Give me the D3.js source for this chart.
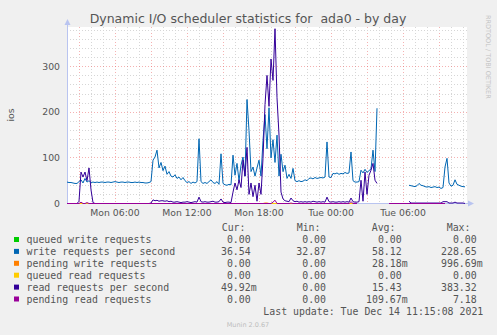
<!DOCTYPE html>
<html><head><meta charset="utf-8">
<script src="https://cdn.jsdelivr.net/npm/d3@7"></script>
<style>body{margin:0;background:#f0f0f0;overflow:hidden} text{white-space:pre}</style>
</head><body>
<svg id="c" width="497" height="335"></svg>
<script>
// ---- data ----
const startTime = "2021-12-13T02:00:00";
const endTime = "2021-12-14T11:20:00";
const stepMinutes = 10;
const yTicks = [0, 100, 200, 300];
const title = "Dynamic I/O scheduler statistics for  ada0 - by day";
const yLabel = "ios";

const queuedWrite = [0,0,0,0,0,0,0,0,0,0, 0,0,0,0,0,0,0,0,0,0, 0,0,0,0,0,0,0,0,0,0, 0,0,0,0,0,0,0,0,0,0,
 0,0,0,0,0,0,0,0,0,0, 0,0,0,0,0,0,0,0,0,0, 0,0,0,0,0,0,0,0,0,0, 0,0,0,0,0,0,0,0,0,0,
 0,0,0,0,0,0,0,0,0,0, 0,0,0,0,0,0,0,0,0,0, 0,0,0,0,0,0,0,0,0,0, 0,0,0,0,0,0,0,0,0,0,
 0,0,0,0,0,0,0,0,0,0, 0,0,0,0,0,0,0,0,0,0, 0,0,0,0,0,0,null,null,null,null,
 null,null,null,null,null,null,null,null,null,null, null,0,0,0,0,0,0,0,0,0,
 0,0,0,0,0,0,0,0,0,0, 0,0,0,0,0,0,0,0,0,0];
const writeRps = [47,46,46,45,44,44,48,52,45,55, 47,50,46,47,46,47,46,47,47,46,
 47,47,46,47,48,47,46,47,47,46, 47,47,46,46,47,46,47,46,46,45,
 45,46,48,95,102,117,78,90,72,82, 64,70,60,58,63,55,58,52,57,50,
 46,48,44,47,45,48,142,48,44,46, 44,48,52,46,44,48,42,109,44,41,
 40,42,41,106,62,88,50,84,102,60, 228,160,70,80,60,78,95,60,138,195,
 120,210,100,140,90,150,60,108,70,84, 55,64,55,77,50,48,50,48,49,52,
 50,55,56,54,57,55,56,57,56,58, 135,58,57,66,65,67,64,66,65,68,
 66,67,113,50,47,47,48,73,67,75, 68,72,76,117,70,209,null,null,null,null,
 null,null,null,null,null,null,null,null,null,null, null,40,39,38,37,39,44,40,39,37,
 36,37,35,36,37,35,36,33,35,80, 99,45,38,40,52,42,40,38,37,36.54];
const pendingWrite = [0,0,0,0,0,0,0,0,0,0, 0,0,0,0,0,0,0,0,0,0, 0,0,0,0,0,0,0,0,0,0, 0,0,0,0,0,0,0,0,0,0,
 0,0,0,0,0,0,0,0,0,0, 0,0,0,0,0,0,0,0,0,0, 0,0,0,0,0,0,0,0,0,0, 0,0,0,0,0,0,0,0,0,0,
 0,0,0,0,0,0,0,0,0,0, 0,0,0,0,0,0,0,0,0,1, 1,0,0,0,0,0,0,0,0,0, 0,0,0,0,0,0,0,0,0,0,
 0,0,0,0,0,0,0,0,0,0, 0,0,0,0,0,0,0,0,0,0, 0,0,0,0,0,0,null,null,null,null,
 null,null,null,null,null,null,null,null,null,null, null,0,0,0,0,0,0,0,0,0,
 0,0,0,0,0,0,0,0,0,0, 0,0,0,0,0,0,0,0,0,0];
const queuedRead = [0,0,0,0,0,0,0,0,0,0, 0,0,0,0,0,0,0,0,0,0, 0,0,0,0,0,0,0,0,0,0, 0,0,0,0,0,0,0,0,0,0,
 0,0,0,0,0,0,0,0,0,0, 0,0,0,0,0,0,0,0,0,0, 0,0,0,0,0,0,0,0,0,0, 0,0,0,0,0,0,0,0,0,0,
 0,0,0,0,0,0,0,0,0,0, 0,0,0,0,0,0,0,0,0,0, 0,0,0,0,0,0,0,0,0,0, 0,0,0,0,0,0,0,0,0,0,
 0,0,0,0,0,0,0,0,0,0, 0,0,0,0,0,0,0,0,0,0, 0,0,0,0,0,0,null,null,null,null,
 null,null,null,null,null,null,null,null,null,null, null,0,0,0,0,0,0,0,0,0,
 0,0,0,0,0,0,0,0,0,0, 0,0,0,0,0,0,0,0,0,0];
const readRps = [0,0,0,0,0,0,5,69,58,69, 50,78,30,2,0,0,0,0,0,0,
 0,0,0,0,0,0,0,0,0,0, 0,0,0,0,0,0,0,0,0,0,
 0,0,1,8,6,7,5,6,6,5, 6,4,5,3,3,4,3,2,3,3,
 4,3,2,3,4,3,14,4,3,4, 3,3,4,5,3,3,4,10,3,2,
 3,3,2,25,45,30,52,35,95,60, 123,20,45,15,40,5,45,20,99,217,
 281,213,317,270,383.32,232,150,25,10,6, 5,4,12,6,4,5,3,4,3,4,
 3,4,3,5,4,3,4,3,4,3, 14,4,3,4,3,3,4,3,4,3,
 4,3,12,4,3,3,4,51,5,69, 20,62,73,88,51,44,null,null,null,null,
 null,null,null,null,null,null,null,null,null,null, null,5,1,1,1,1,1,1,1,1,
 1,1,1,1,1,1,1,1,4,4, 4,1,1,1,3,1,1,1,1,0.05];
const pendingRead = [0,0,0,0,0,0,0,3,0,0, 2,0,0,0,0,0,0,0,0,0, 0,0,0,0,0,0,0,0,0,0, 0,0,0,0,0,0,0,0,0,0,
 0,0,0,0,0,0,0,0,0,0, 0,0,0,0,0,0,0,0,0,0, 0,0,0,0,0,0,0,0,0,0, 0,0,0,0,0,0,0,0,0,0,
 0,0,0,0,0,0,0,0,0,0, 0,0,0,0,0,0,0,0,0,0, 0,0,0,3,7.18,0,0,0,0,0, 0,0,1,0,0,0,0,0,0,0,
 0,0,0,0,0,0,0,0,0,0, 0,0,0,0,0,0,0,0,0,0, 0,0,4,0,0,0,null,null,null,null,
 null,null,null,null,null,null,null,null,null,null, null,0,0,0,0,0,0,0,0,0,
 0,0,0,0,0,0,0,0,0,0, 0,0,0,0,0,0,0,0,0,0];

const seriesNames = ["queued write requests","write requests per second","pending write requests",
  "queued read requests","read requests per second","pending read requests"];
const seriesColors = ["#00CC00","#0066B3","#FF8000","#FFCC00","#330099","#990099"];
const curVals = ["0.00","36.54","0.00","0.00","49.92m","0.00"];
const minVals = ["0.00","32.87","0.00","0.00","0.00","0.00"];
const avgVals = ["0.00","58.12","28.18m","0.00","15.43","109.67m"];
const maxVals = ["0.00","228.65","996.69m","0.00","383.32","7.18"];
const lastUpdate = "Last update: Tue Dec 14 11:15:08 2021";
const version = "Munin 2.0.67";
const sideText = "RRDTOOL / TOBI OETIKER";

// ---- drawing ----
const series = [queuedWrite, writeRps, pendingWrite, queuedRead, readRps, pendingRead];
const svg = d3.select("#c");
const W = 497, H = 335;
const L = 67, R = 467, T = 27, B = 203;
svg.append("rect").attr("width", W).attr("height", H).attr("fill", "#f0f0f0");

const t0 = new Date(startTime), t1 = new Date(endTime);
const x = d3.scaleTime().domain([t0, t1]).range([L, R]);
const y = d3.scaleLinear().domain([0, 386]).range([B, T]);
const timeAt = i => new Date(t0.getTime() + i * stepMinutes * 60000);

svg.append("rect").attr("x", L).attr("y", T).attr("width", R - L).attr("height", B - T).attr("fill", "#ffffff");

const grid = svg.append("g").attr("shape-rendering", "crispEdges");
const minorCol = "#d6d6d6", majorCol = "rgba(235,100,100,0.5)";
d3.timeHour.every(1).range(t0, t1).forEach(h => {
  const major = h.getHours() % 3 === 0;
  grid.append("line").attr("x1", Math.round(x(h)) + 0.5).attr("x2", Math.round(x(h)) + 0.5)
    .attr("y1", T).attr("y2", B)
    .attr("stroke", major ? majorCol : minorCol).attr("stroke-dasharray", "1,2");
});
d3.range(20, 386, 20).forEach(v => {
  const major = v % 100 === 0;
  grid.append("line").attr("x1", L).attr("x2", R)
    .attr("y1", Math.round(y(v)) + 0.5).attr("y2", Math.round(y(v)) + 0.5)
    .attr("stroke", major ? majorCol : minorCol).attr("stroke-dasharray", "1,2");
});

// axes
const axisCol = "#b9c4f0";
svg.append("line").attr("x1", L + 0.5).attr("x2", L + 0.5).attr("y1", B).attr("y2", 23).attr("stroke", axisCol);
svg.append("path").attr("d", `M${L-2.5},25 L${L+3.5},25 L${L+0.5},19 Z`).attr("fill", axisCol);
svg.append("line").attr("x1", L).attr("x2", R + 3).attr("y1", B + 0.5).attr("y2", B + 0.5).attr("stroke", axisCol);
svg.append("path").attr("d", `M${R+1},${B-2.5} L${R+1},${B+3.5} L${R+7},${B+0.5} Z`).attr("fill", axisCol);

// lines
const line = d3.line().defined(d => d[1] != null).x(d => x(d[0])).y(d => y(d[1]) + 0.5);
series.forEach((s, k) => {
  svg.append("path").datum(s.map((v, i) => [timeAt(i), v]))
    .attr("d", line).attr("fill", "none").attr("stroke", seriesColors[k]).attr("stroke-width", 1);
});

const sans = "DejaVu Sans, sans-serif";
const mono = "DejaVu Sans Mono, monospace";
const txtCol = "#555";

// title
svg.append("text").attr("x", 248).attr("y", 23).attr("text-anchor", "middle")
  .attr("font-family", sans).attr("font-size", 12.5).attr("fill", txtCol).text(title);

// y tick labels
yTicks.forEach(v => {
  svg.append("text").attr("x", 60).attr("y", y(v) + 3.5).attr("text-anchor", "end")
    .attr("font-family", sans).attr("font-size", 9.3).attr("fill", txtCol).text(v);
});
svg.append("text").attr("transform", "translate(14,115) rotate(-90)").attr("text-anchor", "middle")
  .attr("font-family", sans).attr("font-size", 9.3).attr("fill", txtCol).text(yLabel);

// x tick labels
const fmt = d3.timeFormat("%a %H:%M");
d3.timeHour.every(6).range(t0, t1).forEach(h => {
  svg.append("text").attr("x", x(h)).attr("y", 216).attr("text-anchor", "middle")
    .attr("font-family", sans).attr("font-size", 9.3).attr("fill", txtCol).text(fmt(h));
});

// side text
svg.append("text").attr("transform", "translate(486,15) rotate(90)").attr("text-anchor", "start")
  .attr("font-family", sans).attr("font-size", 6.5).attr("fill", "#c4c4c4").text(sideText);

// legend
const lf = 9.9;
const headers = [["Cur:", 221.7], ["Min:", 296.7], ["Avg:", 371.7], ["Max:", 446.7]];
headers.forEach(([h, hx]) => {
  svg.append("text").attr("x", hx).attr("y", 231).attr("font-family", mono).attr("font-size", lf)
    .attr("fill", txtCol).text(h);
});
const cols = [[curVals, 250.7], [minVals, 326], [avgVals, 401.7], [maxVals, 476.7]];
seriesNames.forEach((n, k) => {
  const by = 243 + k * 11.9;
  svg.append("rect").attr("x", 14).attr("y", by - 6).attr("width", 5).attr("height", 5).attr("fill", seriesColors[k]);
  svg.append("text").attr("x", 26.5).attr("y", by).attr("font-family", mono).attr("font-size", lf)
    .attr("fill", txtCol).text(n);
  cols.forEach(([arr, cx]) => {
    const s = arr[k];
    const suf = /[a-zA-Z]$/.test(s) ? s.slice(-1) : "";
    const num = suf ? s.slice(0, -1) : s;
    svg.append("text").attr("x", cx).attr("y", by).attr("text-anchor", "end")
      .attr("font-family", mono).attr("font-size", lf).attr("fill", txtCol).text(num);
    if (suf) svg.append("text").attr("x", cx).attr("y", by)
      .attr("font-family", mono).attr("font-size", lf).attr("fill", txtCol).text(suf);
  });
});
svg.append("text").attr("x", 483.3).attr("y", 315).attr("text-anchor", "end")
  .attr("font-family", mono).attr("font-size", lf).attr("fill", txtCol).text(lastUpdate);
svg.append("text").attr("x", 248).attr("y", 327).attr("text-anchor", "middle")
  .attr("font-family", sans).attr("font-size", 6.5).attr("fill", "#bdbdbd").text(version);
</script>
</body></html>
